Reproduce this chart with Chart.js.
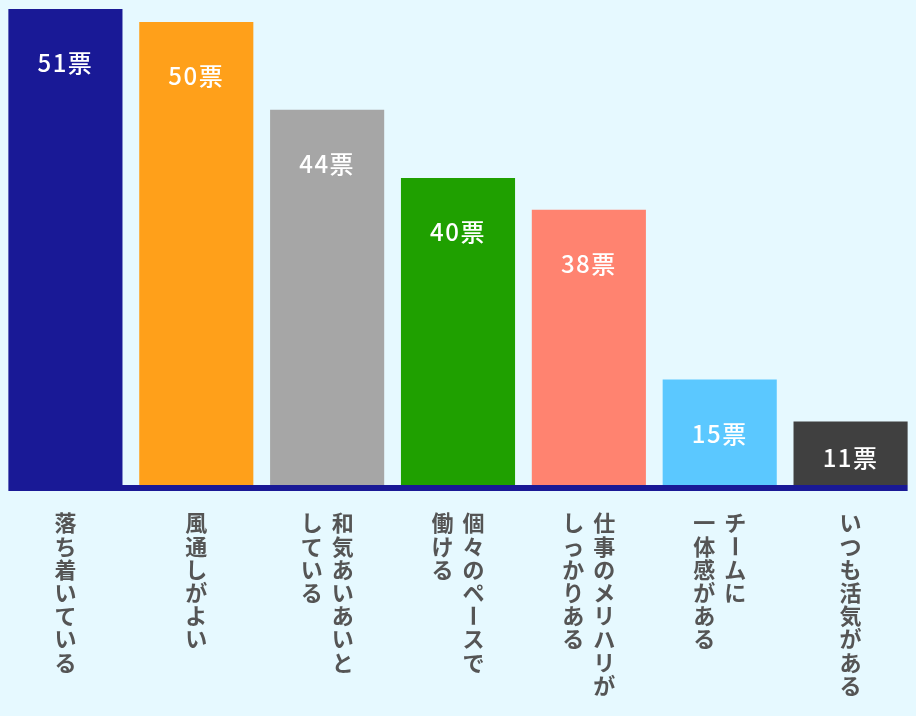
<!DOCTYPE html>
<html lang="ja">
<head>
<meta charset="utf-8">
<script src="https://cdn.jsdelivr.net/npm/chart.js@4.4.1/dist/chart.umd.min.js"></script>
<style>
  html, body { margin: 0; padding: 0; background: #e6f9ff; }
  canvas { display: block; }
</style>
</head>
<body>
<canvas id="voteChart" width="916" height="716"></canvas>
<script>
var categories = [
  ['落ち着いている'],
  ['風通しがよい'],
  ['和気あいあいと', 'している'],
  ['個々のペースで', '働ける'],
  ['仕事のメリハリが', 'しっかりある'],
  ['チームに', '一体感がある'],
  ['いつも活気がある']
];
var votes = [51, 50, 44, 40, 38, 15, 11];
// bar heights as they are drawn in the picture (same unit, top of the scale = 51)
var barHeights = [51, 49.6, 40.2, 32.9, 29.5, 11.3, 6.8];
var barColors = ['#191996', '#ffa01a', '#a6a6a6', '#1fa000', '#ff8370', '#5bc8ff', '#404040'];
var scaleMax = 51;

var labelPlugin = {
  id: 'voteLabels',
  afterDatasetsDraw: function(chart) {
    var ctx = chart.ctx;
    var area = chart.chartArea;
    var bars = chart.getDatasetMeta(0).data;
    var xScale = chart.scales.x;

    ctx.save();

    // base line under the bars
    var first = bars[0], last = bars[bars.length - 1];
    ctx.fillStyle = '#191996';
    ctx.fillRect(first.x - first.width / 2, area.bottom, (last.x + last.width / 2) - (first.x - first.width / 2), 6);

    // vote counts inside the bars
    ctx.fillStyle = '#ffffff';
    ctx.font = '500 24px "Noto Sans CJK JP", "Noto Sans", sans-serif';
    ctx.letterSpacing = '1.5px';
    ctx.textAlign = 'center';
    ctx.textBaseline = 'middle';
    for (var i = 0; i < bars.length; i++) {
      var h = area.bottom - bars[i].y;
      var off = Math.min(54, h * 0.57);
      ctx.fillText(votes[i] + '票', bars[i].x, bars[i].y + off);
    }
    ctx.letterSpacing = '0px';

    // vertical category labels, first line on the right
    ctx.fillStyle = '#555555';
    ctx.font = 'bold 22px "Noto Sans CJK JP", sans-serif';
    for (var c = 0; c < categories.length; c++) {
      var lines = categories[c];
      var cx = xScale.getPixelForValue(c);
      for (var j = 0; j < lines.length; j++) {
        var colX = cx + ((lines.length - 1) / 2 - j) * 31;
        var chars = Array.from(lines[j]);
        for (var k = 0; k < chars.length; k++) {
          var cy = area.bottom + 38 + k * 23.2;
          if (chars[k] === 'ー') {
            ctx.save();
            ctx.translate(colX, cy);
            ctx.rotate(Math.PI / 2);
            ctx.fillText(chars[k], 0, 0);
            ctx.restore();
          } else {
            ctx.fillText(chars[k], colX, cy);
          }
        }
      }
    }
    ctx.restore();
  }
};

var chart = new Chart(document.getElementById('voteChart').getContext('2d'), {
  type: 'bar',
  data: {
    labels: categories,
    datasets: [{
      data: barHeights,
      backgroundColor: barColors,
      borderWidth: 0,
      categoryPercentage: 1,
      barPercentage: 0.872
    }]
  },
  options: {
    responsive: false,
    animation: false,
    layout: { padding: { top: 9, bottom: 231, left: 0, right: 0 } },
    plugins: { legend: { display: false }, tooltip: { enabled: false } },
    scales: {
      x: { display: false },
      y: { display: false, min: 0, max: scaleMax }
    }
  },
  plugins: [labelPlugin]
});
</script>
</body>
</html>
